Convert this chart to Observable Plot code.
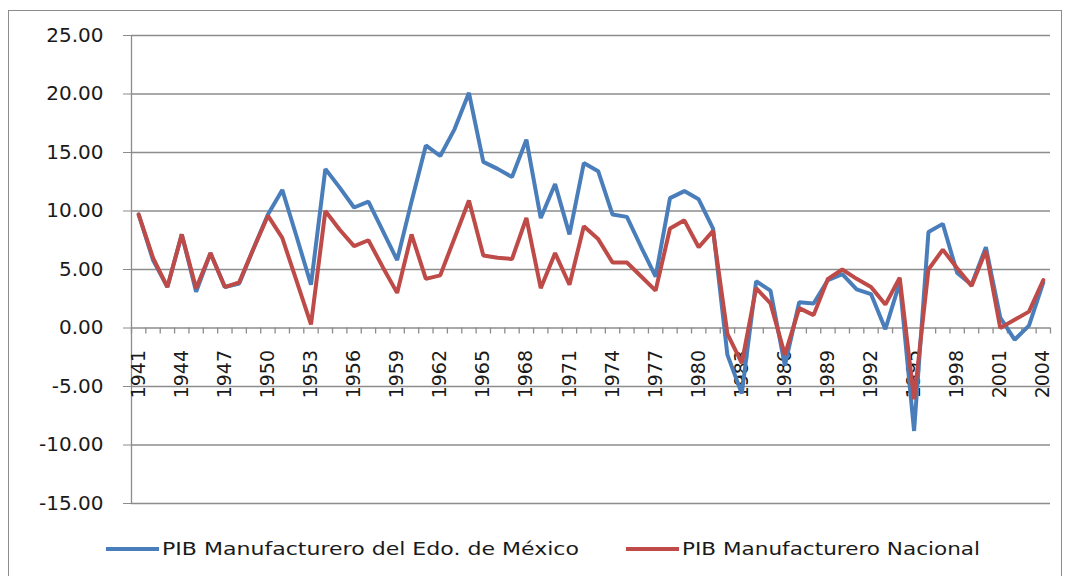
<!DOCTYPE html>
<html>
<head>
<meta charset="utf-8">
<script src="https://cdn.jsdelivr.net/npm/d3@7"></script>
<script src="https://cdn.jsdelivr.net/npm/@observablehq/plot@0.6"></script>
<style>
  html, body { margin: 0; padding: 0; background: #fff; }
  #wrap { position: relative; width: 1065px; height: 576px; overflow: hidden; }
  #border { position: absolute; left: 8px; top: 10px; width: 1054px; height: 580px; border: 1px solid #8c8c8c; box-sizing: border-box; }
  #chart { position: absolute; left: 0; top: 0; }
  #legend { position: absolute; top: 534px; left: 0; }
</style>
</head>
<body>
<div id="wrap">
  <div id="border"></div>
  <div id="chart"></div>
  <div id="legend"></div>
</div>
<script>
const years = d3.range(1941, 2005);
const seriesNames = ["PIB Manufacturero del Edo. de México", "PIB Manufacturero Nacional"];
const edomex = [9.7, 5.8, 3.5, 8.0, 3.1, 6.4, 3.5, 3.8, 6.8, 9.7,
  11.8, 7.8, 3.7, 13.6, 12.0, 10.3, 10.8, 8.3, 5.8, 10.8,
  15.6, 14.7, 17.0, 20.1, 14.2, 13.6, 12.9, 16.1, 9.4, 12.3,
  8.0, 14.1, 13.4, 9.7, 9.5, 6.9, 4.4, 11.1, 11.7, 11.0,
  8.5, -2.3, -5.6, 4.0, 3.2, -3.2, 2.2, 2.1, 4.1, 4.6,
  3.3, 2.9, -0.1, 3.9, -8.8, 8.2, 8.9, 4.7, 3.7, 6.9,
  0.9, -1.0, 0.2, 3.9];
const nacional = [9.7, 6.0, 3.5, 8.0, 3.4, 6.4, 3.5, 3.9, 6.8, 9.6,
  7.7, 4.0, 0.3, 10.0, 8.4, 7.0, 7.5, 5.2, 3.0, 8.0,
  4.2, 4.5, 7.7, 10.9, 6.2, 6.0, 5.9, 9.4, 3.4, 6.4,
  3.7, 8.7, 7.6, 5.6, 5.6, 4.4, 3.2, 8.5, 9.2, 6.9,
  8.3, -0.5, -3.0, 3.4, 2.1, -2.3, 1.7, 1.1, 4.2, 5.0,
  4.2, 3.5, 2.0, 4.3, -6.1, 5.0, 6.7, 5.1, 3.6, 6.6,
  0.0, 0.7, 1.4, 4.1];
const yTicks = [-15, -10, -5, 0, 5, 10, 15, 20, 25];
const labelYears = years.filter((y, i) => i % 3 === 0);
const colors = ["#4a7ebb", "#be4b48"];

const rows = [];
years.forEach((yr, i) => {
  rows.push({year: yr, value: edomex[i], series: seriesNames[0]});
  rows.push({year: yr, value: nacional[i], series: seriesNames[1]});
});
const boundaries = d3.range(years[0] - 0.5, years[years.length - 1] + 1, 1);

const chart = Plot.plot({
  width: 1065,
  height: 520,
  marginLeft: 131,
  marginRight: 15,
  marginTop: 35,
  marginBottom: 17,
  style: {background: "transparent", fontFamily: "DejaVu Sans, sans-serif"},
  x: {domain: [years[0] - 0.5, years[years.length - 1] + 0.5], axis: null},
  y: {domain: [yTicks[0], yTicks[yTicks.length - 1]], axis: null},
  color: {domain: seriesNames, range: colors},
  marks: [
    Plot.gridY(yTicks, {stroke: "#8c8c8c", strokeOpacity: 1, strokeWidth: 1.3}),
    Plot.axisY(yTicks, {tickSize: 8, tickPadding: 20, tickFormat: d => d.toFixed(2), stroke: "#8c8c8c", fill: "#1a1a1a", fontSize: 20, label: null}),
    Plot.ruleX([boundaries[0]], {stroke: "#8c8c8c", strokeWidth: 1.3}),
    Plot.ruleX(boundaries, {y1: 0, y2: 0, insetBottom: -6, stroke: "#8c8c8c", strokeWidth: 1.3}),
    Plot.text(labelYears, {x: d => d, y: 0, text: d => String(d), rotate: -90, textAnchor: "end", dy: 22, fontSize: 19, fill: "#1a1a1a", fontFamily: "DejaVu Sans, sans-serif"}),
    Plot.line(rows.filter(d => d.series === seriesNames[0]), {x: "year", y: "value", stroke: "series", strokeWidth: 4, strokeLinejoin: "miter"}),
    Plot.line(rows.filter(d => d.series === seriesNames[1]), {x: "year", y: "value", stroke: "series", strokeWidth: 4, strokeLinejoin: "miter"})
  ]
});
document.getElementById("chart").appendChild(chart);

// legend
const legendItems = [
  {name: seriesNames[0], color: colors[0], x: 106, len: 417},
  {name: seriesNames[1], color: colors[1], x: 626, len: 298}
];
const lsvg = d3.select("#legend").append("svg").attr("width", 1065).attr("height", 30);
const g = lsvg.selectAll("g").data(legendItems).join("g").attr("transform", d => `translate(${d.x},15)`);
g.append("line").attr("x1", 0).attr("x2", 53).attr("y1", 0).attr("y2", 0)
  .attr("stroke", d => d.color).attr("stroke-width", 4);
g.append("text").attr("x", 56).attr("y", 0).attr("dy", "0.35em")
  .attr("font-family", "DejaVu Sans, sans-serif").attr("font-size", 18).attr("fill", "#1a1a1a")
  .attr("textLength", d => d.len).attr("lengthAdjust", "spacingAndGlyphs")
  .text(d => d.name);
</script>
</body>
</html>
